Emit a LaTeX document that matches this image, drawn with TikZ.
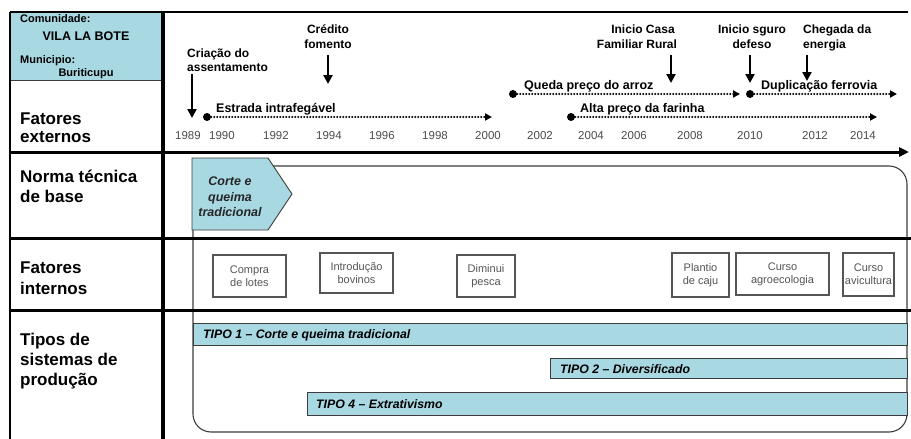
\documentclass[tikz,border=0pt]{standalone}
\usepackage{fontspec}
\setmainfont{Liberation Sans}
\usetikzlibrary{arrows.meta}

\definecolor{tealfill}{RGB}{168,216,226}
\definecolor{boxgray}{RGB}{85,85,85}
\definecolor{yeargray}{RGB}{75,75,75}
\definecolor{edgegray}{RGB}{60,60,60}

\tikzset{
  rowlabel/.style={anchor=base west, inner sep=0, font=\fontsize{17}{20}\selectfont\bfseries},
  headtxt/.style={anchor=base west, inner sep=0, font=\fontsize{11}{12}\selectfont\bfseries},
  evtxt/.style={anchor=base, inner sep=0, font=\fontsize{12}{14}\selectfont\bfseries},
  linetxt/.style={anchor=base west, inner sep=0, font=\fontsize{12.5}{14}\selectfont\bfseries},
  yeartxt/.style={anchor=base, inner sep=0, text=yeargray, font=\fontsize{11.5}{13}\selectfont},
  rule/.style={line width=3},
  evarrow/.style={line width=2.5, -{Triangle[length=9,width=9]}},
  dotline/.style={line width=2.4, dash pattern=on 0pt off 3pt, line cap=round,
    -{Triangle[length=7,width=7]}},
  startdot/.style={circle, fill=black, inner sep=0, minimum size=8},
  ibox/.style={draw=boxgray, line width=1.1, fill=white, text=boxgray, align=center,
    inner sep=0, font=\fontsize{11}{13}\selectfont},
  tipobar/.style={draw=edgegray, line width=1, fill=tealfill},
  tipotxt/.style={anchor=base west, inner sep=0, font=\fontsize{12.3}{14}\selectfont\bfseries\itshape},
}

\begin{document}
\begin{tikzpicture}[x=1pt,y=-1pt]
\useasboundingbox (0,0) rectangle (911,439);

% header cell
\fill[tealfill] (10,12) rectangle (163,80);
\draw[line width=0.8, edgegray] (10,80) -- (163,80);
\node[headtxt] (comlab) at (20,23) {Comunidade:};
\node[headtxt, anchor=base, font=\fontsize{12.5}{14}\selectfont\bfseries] (comname) at (86,40) {VILA LA BOTE};
\node[headtxt] (munlab) at (20,63) {Municipio:};
\node[headtxt, anchor=base] (munname) at (86,76) {Buriticupu};

% row titles
\node[rowlabel] (fe1) at (20,124) {Fatores};
\node[rowlabel] (fe2) at (20,142) {externos};
\node[rowlabel] (nt1) at (20,182) {Norma técnica};
\node[rowlabel] (nt2) at (20,202) {de base};
\node[rowlabel] (fi1) at (20,273) {Fatores};
\node[rowlabel] (fi2) at (20,294) {internos};
\node[rowlabel] (ts1) at (20,345) {Tipos de};
\node[rowlabel] (ts2) at (20,365) {sistemas de};
\node[rowlabel] (ts3) at (20,385) {produção};

% frame around the production-system area
\draw[line width=1.1, edgegray, rounded corners=18] (193,166) rectangle (907,432);

% production types
\draw[tipobar] (193,323) rectangle (907,345);
\node[tipotxt] (tipo1) at (203,338.5) {TIPO 1 – Corte e queima tradicional};
\draw[tipobar] (550,358) rectangle (907,378);
\node[tipotxt] (tipo2) at (560,373) {TIPO 2 – Diversificado};
\draw[tipobar] (307,392) rectangle (907,415);
\node[tipotxt] (tipo4) at (316,408) {TIPO 4 – Extrativismo};

% base technical norm
\draw[fill=tealfill, draw=edgegray, line width=0.9]
  (192,158) -- (268,158) -- (292,194) -- (268,230) -- (192,230) -- cycle;
\node[align=center, inner sep=0, text=black!85,
  font=\fontsize{12.5}{15.5}\selectfont\bfseries\itshape] (ctq) at (230,197) {Corte e\\queima\\tradicional};

% internal factors
\node[ibox, minimum width=73, minimum height=42] (compra) at (249.5,276) {Compra\\de lotes};
\node[ibox, minimum width=73, minimum height=40] (bovinos) at (356.5,273) {Introdução\\bovinos};
\node[ibox, minimum width=58, minimum height=42] (pesca) at (486,276) {Diminui\\pesca};
\node[ibox, minimum width=57, minimum height=44] (caju) at (700.5,275) {Plantio\\de caju};
\node[ibox, minimum width=93, minimum height=42] (agro) at (782.5,274) {Curso\\agroecologia};
\node[ibox, minimum width=51, minimum height=43, text width=51] (avic) at (868.5,274.5) {Curso\\avicultura};

% grid lines
\draw[line width=1.5] (10,12) -- (908,12);
\draw[line width=1.5] (10,12) -- (10,439);
\draw[line width=3.5] (163,12) -- (163,439);
\draw[rule] (10,238) -- (911,238);
\draw[rule] (10,310) -- (911,310);

% time axis
\coordinate (axisL) at (10,152);
\coordinate (axisR) at (909,152);
\draw[line width=3, -{Triangle[length=10,width=9]}] (axisL) -- (axisR);
\foreach \yr/\xx in {1989/188, 1990/222, 1992/276, 1994/329, 1996/382, 1998/435,
  2000/488, 2002/540, 2004/591, 2006/634, 2008/690, 2010/750, 2012/815, 2014/863}
  \node[yeartxt] (y\yr) at (\xx,139) {\yr};

% lasting external factors
\node[startdot] (estA) at (207,117) {};
\coordinate (estB) at (492,117);
\draw[dotline] (estA) -- (estB);
\node[linetxt] (estL) at (216,112) {Estrada intrafegável};

\node[startdot] (queA) at (513,94) {};
\coordinate (queB) at (740,94);
\draw[dotline] (queA) -- (queB);
\node[linetxt] (queL) at (524,89) {Queda preço do arroz};

\node[startdot] (dupA) at (750,94) {};
\coordinate (dupB) at (897,94);
\draw[dotline] (dupA) -- (dupB);
\node[linetxt] (dupL) at (761,89) {Duplicação ferrovia};

\node[startdot] (altA) at (571,117) {};
\coordinate (altB) at (877,117);
\draw[dotline] (altA) -- (altB);
\node[linetxt] (altL) at (580,112) {Alta preço da farinha};

% punctual external events
\node[evtxt, anchor=base west] (cri1) at (187,57) {Criação do};
\node[evtxt, anchor=base west] (cri2) at (187,71) {assentamento};
\coordinate (criA) at (192,74);
\coordinate (criB) at (192,118);
\draw[evarrow] (criA) -- (criB);

\node[evtxt] (cre1) at (328,33) {Crédito};
\node[evtxt] (cre2) at (328,48) {fomento};
\coordinate (creA) at (328,55);
\coordinate (creB) at (328,84);
\draw[evarrow] (creA) -- (creB);

\node[evtxt] (cfr1) at (643,33) {Inicio Casa};
\node[evtxt] (cfr2) at (637,48) {Familiar Rural};
\coordinate (cfrA) at (671,55);
\coordinate (cfrB) at (671,83);
\draw[evarrow] (cfrA) -- (cfrB);

\node[evtxt] (seg1) at (752,33) {Inicio sguro};
\node[evtxt] (seg2) at (752,48) {defeso};
\coordinate (segA) at (750,55);
\coordinate (segB) at (750,83);
\draw[evarrow] (segA) -- (segB);

\node[evtxt, anchor=base west] (ene1) at (803,33) {Chegada da};
\node[evtxt, anchor=base west] (ene2) at (803,48) {energia};
\coordinate (eneA) at (807,55);
\coordinate (eneB) at (807,81);
\draw[evarrow] (eneA) -- (eneB);

\end{tikzpicture}
\end{document}
